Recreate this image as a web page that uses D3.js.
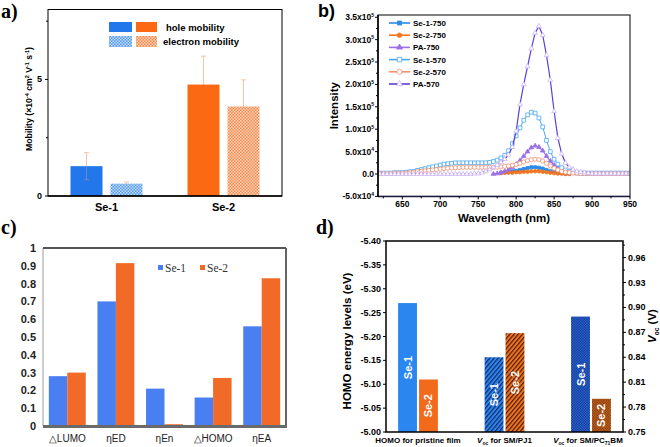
<!DOCTYPE html>
<html><head><meta charset="utf-8">
<script src="https://cdn.jsdelivr.net/npm/d3@7"></script>
<style>
body{margin:0;background:#fff;}
svg{display:block;}
text{font-family:Arial,"Liberation Sans",sans-serif;}
.serif{font-family:"Times New Roman","Liberation Serif",serif;}
</style></head>
<body>
<svg id="fig" width="660" height="447"></svg>
<script>
// ---------- Panel a data ----------
const aGroups = ["Se-1", "Se-2"];
const aHole = [1.28, 4.78];
const aHoleErr = [0.58, 1.22];
const aElectron = [0.53, 3.84];
const aElectronErr = [0.07, 1.14];
const aTicks = [0, 5];
const aMinorTicks = [2.5, 7.5];

// ---------- Panel b data (intensity in units of 1e4) ----------
const bWavelength = [620,625,630,635,640,645,650,655,660,665,670,675,680,685,690,695,700,705,710,715,720,725,730,735,740,745,750,755,760,765,770,775,780,785,790,795,800,805,810,815,820,825,830,835,840,845,850,855,860,865,870,875,880,885,890,895,900,905,910,915,920,925,930,935,940,945,950];
const bSe1_750 = [null,null,null,null,null,null,null,null,null,null,null,null,null,null,null,null,null,null,null,null,null,null,null,null,null,null,null,null,null,null,null,null,0.3,0.4,0.5,0.6,0.7,0.9,1.1,1.3,1.5,1.5,1.4,1.2,0.9,0.6,0.4,0.3,0.2,0.1,0.1,null,null,null,null,null,null,null,null,null,null,null,null,null,null,null,null];
const bSe2_750 = [null,null,null,null,null,null,null,null,null,null,null,null,null,null,null,null,null,null,null,null,null,null,null,null,null,null,null,null,null,null,null,null,0.2,0.3,0.3,0.3,0.4,0.4,0.5,0.5,0.6,0.6,0.6,0.5,0.4,0.3,0.2,0.1,0.1,0.0,0.0,null,null,null,null,null,null,null,null,null,null,null,null,null,null,null,null];
const bPA_750 = [null,null,null,null,null,null,null,null,null,null,null,null,null,null,null,null,null,null,null,null,null,null,null,null,null,null,null,null,null,null,0.0,0.1,0.3,0.6,1.0,1.5,2.2,3.0,4.0,5.0,5.9,6.3,6.0,5.2,4.0,2.9,2.0,1.3,0.8,0.5,0.3,0.2,0.1,0.1,0.1,0.1,0.1,0.1,0.1,0.1,0.1,0.1,0.1,0.1,0.1,0.1,0.1];
const bSe1_570 = [0.2,0.2,0.2,0.2,0.3,0.3,0.3,0.4,0.5,0.6,0.8,1.0,1.2,1.4,1.6,1.8,2.0,2.2,2.3,2.4,2.5,2.5,2.5,2.5,2.5,2.5,2.5,2.5,2.5,2.6,2.8,3.1,3.6,4.2,5.2,6.8,8.5,10.3,12.0,13.2,13.8,13.6,12.5,10.5,7.5,5.0,3.3,2.2,1.4,0.9,0.6,0.4,0.3,0.2,0.2,0.2,0.2,0.2,0.2,0.2,0.2,0.2,0.2,0.2,0.2,0.2,0.2];
const bSe2_570 = [0.1,0.1,0.1,0.1,0.2,0.2,0.2,0.2,0.3,0.4,0.5,0.6,0.7,0.8,0.9,1.0,1.1,1.2,1.3,1.35,1.4,1.45,1.5,1.5,1.5,1.5,1.5,1.5,1.5,1.5,1.5,1.5,1.6,1.7,1.8,1.95,2.1,2.4,2.7,3.0,3.2,3.3,3.2,2.9,2.4,1.8,1.3,0.9,0.6,0.4,0.3,0.2,0.2,0.1,0.1,0.1,0.1,0.1,0.1,0.1,0.1,0.1,0.1,0.1,0.1,0.1,0.1];
const bPA_570 = [0,0,0,0,0,0,0,0,0,0,0,0,0,0,0,0,0,0,0,0,0,0,0,0,0,0.1,0.1,0.3,0.6,1.0,1.5,2.0,2.6,3.3,4.3,6.0,9.5,15.5,20.0,24.0,28.0,31.5,33.0,31.0,26.5,21.0,14.0,8.0,4.5,2.5,1.5,1.0,0.6,0.4,0.3,0.2,0.1,0.1,0.1,0.1,0.1,0.1,0.1,0.1,0.1,0.1,0.1];
const bSeriesNames = ["Se-1-750","Se-2-750","PA-750","Se-1-570","Se-2-570","PA-570"];
const bYTicks = [-5,0,5,10,15,20,25,30,35];
const bYTickMant = ["-5.0","0.0","5.0","1.0","1.5","2.0","2.5","3.0","3.5"];
const bYTickExp = ["4","","4","5","5","5","5","5","5"];
const bXTicks = [650,700,750,800,850,900,950];

// ---------- Panel c data ----------
const cCategories = ["\u25B3LUMO","\u03B7ED","\u03B7En","\u25B3HOMO","\u03B7EA"];
const cSe1 = [0.28,0.70,0.21,0.16,0.56];
const cSe2 = [0.30,0.915,0.01,0.27,0.83];
const cTicks = [0,0.1,0.2,0.3,0.4,0.5,0.6,0.7,0.8,0.9,1];
const cTickLabels = ["0","0.1","0.2","0.3","0.4","0.5","0.6","0.7","0.8","0.9","1"];

// ---------- Panel d data ----------
const dGroups = ["HOMO for pristine film","Voc for SM/PJ1","Voc for SM/PC71BM"];
const dSe1 = [-5.27, 0.840, 0.889];
const dSe2 = [-5.11, 0.869, 0.790];
const dLeftTicks = [-5.40,-5.35,-5.30,-5.25,-5.20,-5.15,-5.10,-5.05,-5.00];
const dRightTicks = [0.75,0.78,0.81,0.84,0.87,0.90,0.93,0.96];

const svg = d3.select("#fig");
const defs = svg.append("defs");

function checker(id, base, dot, s){
  const p = defs.append("pattern").attr("id",id).attr("width",2*s).attr("height",2*s).attr("patternUnits","userSpaceOnUse");
  p.append("rect").attr("width",2*s).attr("height",2*s).attr("fill",base);
  p.append("rect").attr("width",s).attr("height",s).attr("fill",dot);
  p.append("rect").attr("x",s).attr("y",s).attr("width",s).attr("height",s).attr("fill",dot);
}
function hatch(id, base, line){
  const p = defs.append("pattern").attr("id",id).attr("width",3.2).attr("height",3.2).attr("patternUnits","userSpaceOnUse").attr("patternTransform","rotate(40)");
  p.append("rect").attr("width",3.2).attr("height",3.2).attr("fill",base);
  p.append("line").attr("x1",0.6).attr("x2",0.6).attr("y1",0).attr("y2",3.2).attr("stroke",line).attr("stroke-width",1.2);
}
checker("chkBlueA","#4f97ee","#c9e0fb",1.5);
checker("chkOrangeA","#f7884a","#fcd6bd",1.5);
hatch("hatchBlue","#2f86ee","#0e2a66");
hatch("hatchOrange","#f07322","#4a1d06");
checker("chkBlueD","#2f6fe0","#0f2e86",1.3);
checker("chkOrangeD","#e0701f","#6a2c08",1.3);

// =============== Panel a ===============
{
  const g = svg.append("g");
  const L=48,R=282,T=9.5,B=196;
  const x = d3.scaleBand().domain(aGroups).range([L,R]);
  const xi = d3.scaleBand().domain(["hole","electron"]).range([-36,36]).paddingInner(0.2);
  const y = d3.scaleLinear().domain([0,8]).range([B,T]);
  const errCol = "#f6c4a4";
  const drawErr = (cx, v, e) => {
    g.append("line").attr("x1",cx).attr("x2",cx).attr("y1",y(v-e)).attr("y2",y(v+e)).attr("stroke",errCol).attr("stroke-width",1);
    [v-e, v+e].forEach(t=>g.append("line").attr("x1",cx-2.5).attr("x2",cx+2.5).attr("y1",y(t)).attr("y2",y(t)).attr("stroke",errCol).attr("stroke-width",1));
  };
  aGroups.forEach((k,i)=>{
    drawErr(x(k)+x.bandwidth()/2+xi("hole")+xi.bandwidth()/2, aHole[i], aHoleErr[i]);
    drawErr(x(k)+x.bandwidth()/2+xi("electron")+xi.bandwidth()/2, aElectron[i], aElectronErr[i]);
  });
  const holeFill=["#2277ea","#fb6a12"], elFill=["url(#chkBlueA)","url(#chkOrangeA)"];
  aGroups.forEach((k,i)=>{
    const cx = x(k)+x.bandwidth()/2;
    g.append("rect").attr("x",cx+xi("hole")).attr("width",xi.bandwidth()).attr("y",y(aHole[i])).attr("height",B-y(aHole[i])).attr("fill",holeFill[i]);
    g.append("rect").attr("x",cx+xi("electron")).attr("width",xi.bandwidth()).attr("y",y(aElectron[i])).attr("height",B-y(aElectron[i])).attr("fill",elFill[i]);
  });
  {
    const cx = x("Se-1")+x.bandwidth()/2+xi("hole")+xi.bandwidth()/2;
    g.append("line").attr("x1",cx).attr("x2",cx).attr("y1",y(aHole[0])).attr("y2",y(aHole[0]-aHoleErr[0])).attr("stroke","#8c8fa8").attr("stroke-width",1).attr("opacity",0.7);
    g.append("line").attr("x1",cx-2.5).attr("x2",cx+2.5).attr("y1",y(aHole[0]-aHoleErr[0])).attr("y2",y(aHole[0]-aHoleErr[0])).attr("stroke","#8c8fa8").attr("opacity",0.7);
  }
  g.append("rect").attr("x",L).attr("y",T).attr("width",R-L).attr("height",B-T).attr("fill","none").attr("stroke","#000").attr("stroke-width",1);
  g.append("line").attr("x1",L).attr("x2",R).attr("y1",B).attr("y2",B).attr("stroke","#000").attr("stroke-width",1.6);
  aTicks.forEach(t=>{
    g.append("line").attr("x1",L-3).attr("x2",L).attr("y1",y(t)).attr("y2",y(t)).attr("stroke","#000");
    g.append("text").attr("x",L-6).attr("y",y(t)+3).attr("text-anchor","end").attr("font-size",9).attr("font-weight","bold").text(t);
  });
  aMinorTicks.forEach(t=>g.append("line").attr("x1",L-2).attr("x2",L).attr("y1",y(t)).attr("y2",y(t)).attr("stroke","#000"));
  aGroups.forEach(k=>g.append("text").attr("x",x(k)+x.bandwidth()/2).attr("y",211).attr("text-anchor","middle").attr("font-size",11).attr("font-weight","bold").text(k));
  const yl = g.append("text").attr("transform","translate(32,99) rotate(-90)").attr("text-anchor","middle").attr("font-size",8.7).attr("font-weight","bold");
  yl.append("tspan").text("Mobility (\u00D710");
  yl.append("tspan").attr("dy",-3).attr("font-size",5.5).text("-4");
  yl.append("tspan").attr("dy",3).text(" cm");
  yl.append("tspan").attr("dy",-3).attr("font-size",5.5).text("2");
  yl.append("tspan").attr("dy",3).text(" V");
  yl.append("tspan").attr("dy",-3).attr("font-size",5.5).text("-1");
  yl.append("tspan").attr("dy",3).text(" s");
  yl.append("tspan").attr("dy",-3).attr("font-size",5.5).text("-1");
  yl.append("tspan").attr("dy",3).text(")");
  g.append("rect").attr("x",109).attr("y",22).attr("width",23).attr("height",10).attr("fill",holeFill[0]);
  g.append("rect").attr("x",136).attr("y",22).attr("width",21).attr("height",10).attr("fill",holeFill[1]);
  g.append("rect").attr("x",109).attr("y",36).attr("width",23).attr("height",11).attr("fill",elFill[0]);
  g.append("rect").attr("x",136).attr("y",36).attr("width",21).attr("height",11).attr("fill",elFill[1]);
  g.append("text").attr("x",166).attr("y",31).attr("font-size",9.5).attr("font-weight","bold").text("hole mobility");
  g.append("text").attr("x",163).attr("y",45).attr("font-size",9.5).attr("font-weight","bold").text("electron mobility");
  svg.append("text").attr("class","serif").attr("x",1).attr("y",18).attr("font-size",20).attr("font-weight","bold").text("a)");
}

// =============== Panel b ===============
{
  const g = svg.append("g");
  const L=378,R=630,T=15,B=196.4;
  const x = d3.scaleLinear().domain([618,950]).range([L,R]);
  const y = d3.scaleLinear().domain([-5,35.5]).range([B,T]);
  const series = [
    {name:bSeriesNames[0], vals:bSe1_750, col:"#2a8ae8", sym:d3.symbolSquare, size:10, filled:true, sw:1.3},
    {name:bSeriesNames[1], vals:bSe2_750, col:"#f5731e", sym:d3.symbolCircle, size:10, filled:true, sw:1.3},
    {name:bSeriesNames[2], vals:bPA_750, col:"#9a70e6", sym:d3.symbolTriangle, size:9, filled:true, sw:1.2},
    {name:bSeriesNames[3], vals:bSe1_570, col:"#4aa8f2", sym:d3.symbolSquare, size:14, filled:false, sw:1},
    {name:bSeriesNames[4], vals:bSe2_570, col:"#f39070", sym:d3.symbolCircle, size:14, filled:false, sw:1},
    {name:bSeriesNames[5], vals:bPA_570, col:"#5b3fd8", sym:d3.symbolTriangle, size:10, filled:false, sw:1.2, mcol:"#c9b3f3"}
  ];
  const clip = defs.append("clipPath").attr("id","clipB");
  clip.append("rect").attr("x",L).attr("y",T).attr("width",R-L).attr("height",B-T);
  const pg = g.append("g").attr("clip-path","url(#clipB)");
  series.forEach(s=>{
    const pts = bWavelength.map((w,i)=>[w,s.vals[i]]);
    const line = d3.line().defined(d=>d[1]!==null).x(d=>x(d[0])).y(d=>y(d[1]));
    pg.append("path").attr("d",line(pts)).attr("fill","none").attr("stroke",s.col).attr("stroke-width",s.sw);
    const sym = d3.symbol().type(s.sym).size(s.size);
    pg.selectAll(null).data(pts.filter(d=>d[1]!==null)).join("path")
      .attr("transform",d=>`translate(${x(d[0])},${y(d[1])})`).attr("d",sym())
      .attr("fill",s.filled?s.col:"#fff").attr("stroke",s.mcol||s.col).attr("stroke-width",0.8);
  });
  g.append("rect").attr("x",L).attr("y",T).attr("width",R-L).attr("height",B-T).attr("fill","none").attr("stroke","#000").attr("stroke-width",1);
  g.append("line").attr("x1",L).attr("x2",R).attr("y1",B).attr("y2",B).attr("stroke","#1a1a40").attr("stroke-width",1.5);
  g.append("line").attr("x1",L).attr("x2",L).attr("y1",T).attr("y2",B).attr("stroke","#000").attr("stroke-width",1.5);
  bXTicks.forEach(t=>{
    g.append("line").attr("x1",x(t)).attr("x2",x(t)).attr("y1",B).attr("y2",B+3).attr("stroke","#000");
    g.append("text").attr("x",x(t)).attr("y",B+11).attr("text-anchor","middle").attr("font-size",8.5).attr("font-weight","bold").text(t);
  });
  bXTicks.slice(0,-1).forEach(t=>g.append("line").attr("x1",x(t+25)).attr("x2",x(t+25)).attr("y1",B).attr("y2",B+2).attr("stroke","#000"));
  g.append("line").attr("x1",x(625)).attr("x2",x(625)).attr("y1",B).attr("y2",B+2).attr("stroke","#000");
  bYTicks.forEach((t,i)=>{
    g.append("line").attr("x1",L-3).attr("x2",L).attr("y1",y(t)).attr("y2",y(t)).attr("stroke","#000");
    const tx = g.append("text").attr("x",L-4).attr("y",y(t)+3).attr("text-anchor","end").attr("font-size",8.5).attr("font-weight","bold");
    tx.append("tspan").text(bYTickMant[i] + (bYTickExp[i]?"x10":""));
    if(bYTickExp[i]) tx.append("tspan").attr("dy",-3.5).attr("font-size",5).text(bYTickExp[i]);
    if(i<bYTicks.length-1) g.append("line").attr("x1",L-2).attr("x2",L).attr("y1",y(t+2.5)).attr("y2",y(t+2.5)).attr("stroke","#000");
  });
  g.append("text").attr("transform",`translate(338,${(T+B)/2}) rotate(-90)`).attr("text-anchor","middle").attr("font-size",11.5).attr("font-weight","bold").text("Intensity");
  g.append("text").attr("x",(L+R)/2).attr("y",222).attr("text-anchor","middle").attr("font-size",11.5).attr("font-weight","bold").text("Wavelength (nm)");
  series.forEach((s,i)=>{
    const yy = 23+i*12.2;
    g.append("line").attr("x1",389).attr("x2",410).attr("y1",yy).attr("y2",yy).attr("stroke",s.col).attr("stroke-width",1.6);
    g.append("path").attr("transform",`translate(399.5,${yy})`).attr("d",d3.symbol().type(s.sym).size(s.size+6)())
      .attr("fill",s.filled?s.col:"#fff").attr("stroke",s.mcol||s.col).attr("stroke-width",0.8);
    g.append("text").attr("x",413).attr("y",yy+3).attr("font-size",8).attr("font-weight","bold").text(s.name);
  });
  svg.append("text").attr("x",318).attr("y",17).attr("font-size",18).attr("font-weight","bold").text("b)");
}

// =============== Panel c ===============
{
  const g = svg.append("g");
  const L=43,R=286,T=248,B=426;
  const x = d3.scaleBand().domain(cCategories).range([L,R]).paddingInner(0.24).paddingOuter(0.12);
  const xi = d3.scaleBand().domain(["Se-1","Se-2"]).range([0,x.bandwidth()]);
  const y = d3.scaleLinear().domain([0,1]).range([B,T]);
  const cols = {"Se-1":"#4a7ff2","Se-2":"#f26a28"};
  cCategories.forEach((c,i)=>{
    [["Se-1",cSe1[i]],["Se-2",cSe2[i]]].forEach(([k,v])=>{
      g.append("rect").attr("x",x(c)+xi(k)).attr("width",xi.bandwidth()).attr("y",y(v)).attr("height",B-y(v)).attr("fill",cols[k]);
    });
  });
  g.append("line").attr("x1",L).attr("x2",L).attr("y1",T).attr("y2",B).attr("stroke","#9a9a9a").attr("stroke-width",1);
  g.append("line").attr("x1",L).attr("x2",R).attr("y1",T).attr("y2",T).attr("stroke","#555").attr("stroke-width",1.8);
  g.append("line").attr("x1",R).attr("x2",R).attr("y1",T).attr("y2",B).attr("stroke","#555").attr("stroke-width",1.8);
  g.append("line").attr("x1",L).attr("x2",R+1).attr("y1",B+0.5).attr("y2",B+0.5).attr("stroke","#6a6a6a").attr("stroke-width",3);
  cTicks.forEach((t,i)=>g.append("text").attr("x",36).attr("y",y(t)+4).attr("text-anchor","end").attr("font-size",11).attr("font-weight","bold").attr("fill","#222").text(cTickLabels[i]));
  cCategories.forEach(c=>g.append("text").attr("x",x(c)+x.bandwidth()/2).attr("y",442).attr("text-anchor","middle").attr("font-size",10).attr("fill","#222").text(c));
  g.append("rect").attr("x",158).attr("y",265).attr("width",5).attr("height",5).attr("fill",cols["Se-1"]);
  g.append("text").attr("class","serif").attr("x",165).attr("y",271.5).attr("font-size",11.5).attr("fill","#333").text("Se-1");
  g.append("rect").attr("x",200).attr("y",265).attr("width",5).attr("height",5).attr("fill",cols["Se-2"]);
  g.append("text").attr("class","serif").attr("x",207).attr("y",271.5).attr("font-size",11.5).attr("fill","#333").text("Se-2");
  svg.append("text").attr("class","serif").attr("x",1).attr("y",234).attr("font-size",20).attr("font-weight","bold").text("c)");
}

// =============== Panel d ===============
{
  const g = svg.append("g");
  const L=386,R=623,T=241,B=432;
  const x = d3.scaleBand().domain(dGroups).range([L,R]).paddingInner(0.54).paddingOuter(0.14);
  const xi = d3.scaleBand().domain(["Se-1","Se-2"]).range([0,x.bandwidth()]).paddingInner(0.1);
  const yl = d3.scaleLinear().domain([-5.00,-5.40]).range([B,T]);
  const yr = d3.scaleLinear().domain([0.75,0.98]).range([B,T]);
  const fills = [
    {"Se-1":"#2b86f0","Se-2":"#f26b1d"},
    {"Se-1":"url(#hatchBlue)","Se-2":"url(#hatchOrange)"},
    {"Se-1":"url(#chkBlueD)","Se-2":"url(#chkOrangeD)"}
  ];
  dGroups.forEach((gname,i)=>{
    const sc = i===0?yl:yr;
    [["Se-1",dSe1[i]],["Se-2",dSe2[i]]].forEach(([k,v])=>{
      const bx = x(gname)+xi(k), top = sc(v);
      g.append("rect").attr("x",bx).attr("width",xi.bandwidth()).attr("y",top).attr("height",B-top).attr("fill",fills[i][k]);
      g.append("text").attr("transform",`translate(${bx+xi.bandwidth()/2+4},${(top+B)/2}) rotate(-90)`).attr("text-anchor","middle")
        .attr("font-size",11).attr("font-weight","bold").attr("fill","#fff").text(k);
    });
  });
  g.append("rect").attr("x",L).attr("y",T).attr("width",R-L).attr("height",B-T).attr("fill","none").attr("stroke","#000").attr("stroke-width",1.5);
  dLeftTicks.forEach(t=>{
    g.append("line").attr("x1",L-3).attr("x2",L).attr("y1",yl(t)).attr("y2",yl(t)).attr("stroke","#000");
    g.append("text").attr("x",L-5).attr("y",yl(t)+3).attr("text-anchor","end").attr("font-size",9).attr("font-weight","bold").text(t.toFixed(2));
  });
  dRightTicks.forEach(t=>{
    g.append("line").attr("x1",R).attr("x2",R+3).attr("y1",yr(t)).attr("y2",yr(t)).attr("stroke","#000");
    g.append("line").attr("x1",R).attr("x2",R+2).attr("y1",yr(t+0.015)).attr("y2",yr(t+0.015)).attr("stroke","#000");
    g.append("text").attr("x",R+5).attr("y",yr(t)+3).attr("font-size",9).attr("font-weight","bold").text(t.toFixed(2));
  });
  g.append("text").attr("transform","translate(351,341) rotate(-90)").attr("text-anchor","middle").attr("font-size",11.5).attr("font-weight","bold").text("HOMO energy levels (eV)");
  const rl = g.append("text").attr("transform","translate(656,326) rotate(-90)").attr("text-anchor","middle").attr("font-size",11.5).attr("font-weight","bold");
  rl.append("tspan").attr("font-style","italic").text("V");
  rl.append("tspan").attr("dy",3).attr("font-size",6.5).text("oc");
  rl.append("tspan").attr("dy",-3).text(" (V)");
  const cx = k=>x(k)+x.bandwidth()/2;
  g.append("text").attr("x",cx(dGroups[0])).attr("y",443).attr("text-anchor","middle").attr("font-size",8).attr("font-weight","bold").text("HOMO for pristine film");
  const t2 = g.append("text").attr("x",cx(dGroups[1])).attr("y",443).attr("text-anchor","middle").attr("font-size",8).attr("font-weight","bold");
  t2.append("tspan").attr("font-style","italic").text("V");
  t2.append("tspan").attr("dy",2).attr("font-size",5).text("oc");
  t2.append("tspan").attr("dy",-2).text(" for SM/PJ1");
  const t3 = g.append("text").attr("x",cx(dGroups[2])-3).attr("y",443).attr("text-anchor","middle").attr("font-size",8).attr("font-weight","bold");
  t3.append("tspan").attr("font-style","italic").text("V");
  t3.append("tspan").attr("dy",2).attr("font-size",5).text("oc");
  t3.append("tspan").attr("dy",-2).text(" for SM/PC");
  t3.append("tspan").attr("dy",2).attr("font-size",5).text("71");
  t3.append("tspan").attr("dy",-2).text("BM");
  svg.append("text").attr("class","serif").attr("x",316).attr("y",234).attr("font-size",20).attr("font-weight","bold").text("d)");
}
</script>
</body></html>
